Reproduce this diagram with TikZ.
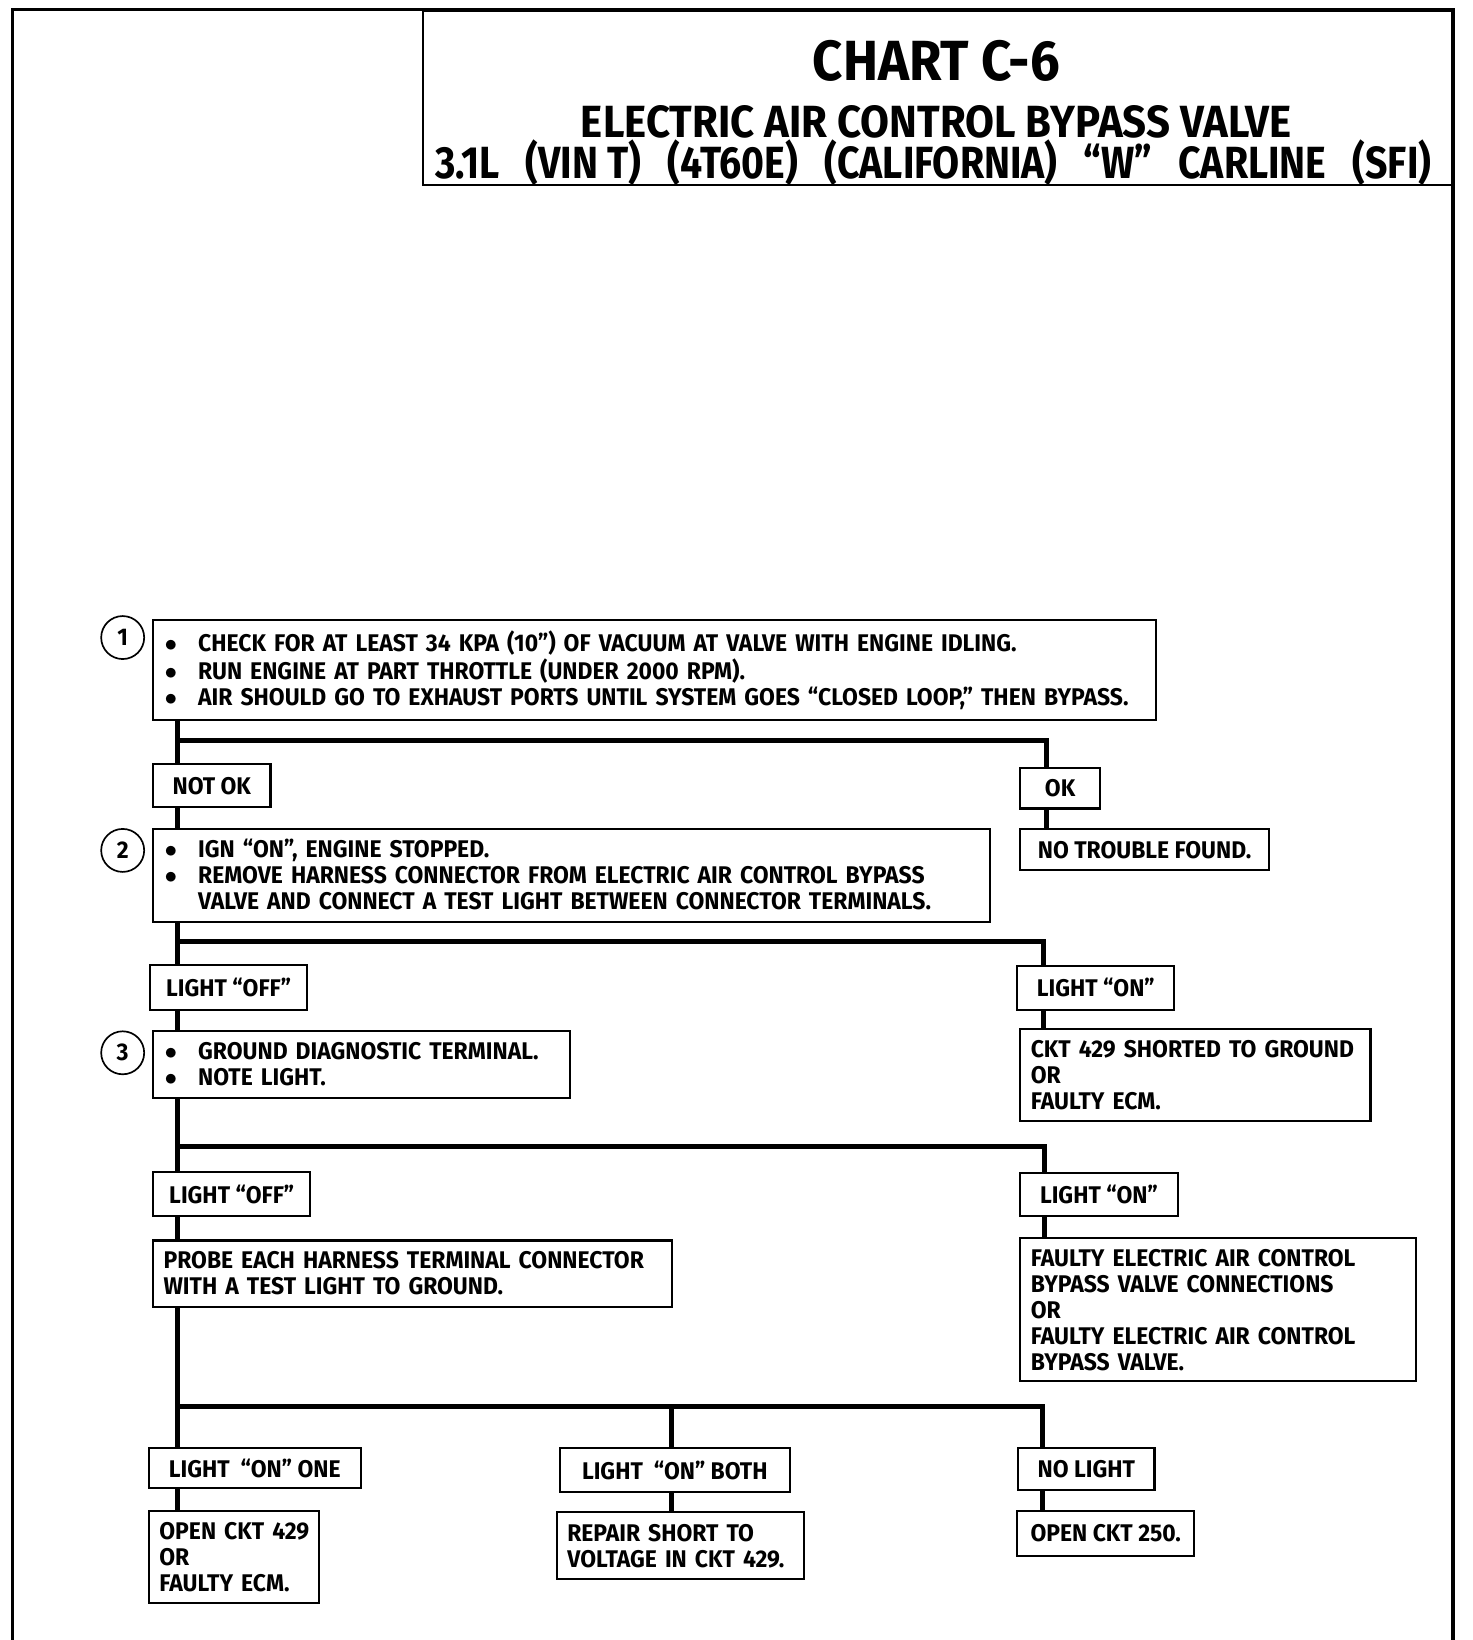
\documentclass[tikz,border=0pt]{standalone}
\usepackage{fontspec}
\setmainfont{Fira Sans}[UprightFont={* Bold}, FakeStretch=0.95]
\newfontfamily\titlefont{Fira Sans}[UprightFont={* Bold}, FakeStretch=0.93]
\newfontfamily\titlefontc{Fira Sans}[UprightFont={* Bold}, FakeStretch=0.87]
\newcommand\fs{\fontsize{11.5}{12.4}\selectfont}
\newcommand\bl{\makebox[16.5pt][l]{\hspace{0.5pt}$\bullet$}}
\newcommand\tl[1]{\begin{tabular}{@{}l@{}}\rule{0pt}{11.7pt}#1\end{tabular}}
\tikzset{
  box/.style={draw, line width=1pt, anchor=north west, inner xsep=5pt, inner ysep=0pt, align=left, font=\fs},
  tbox/.style 2 args={box, text width=#1, minimum height=#2},
  lbl/.style={draw, line width=1pt, anchor=north west, inner sep=0pt, align=center, font=\fs},
  conn/.style={line width=2.3pt},
  num/.style={circle, draw, line width=0.8pt, minimum size=20.5pt, inner sep=0pt, font=\fs},
  frame/.style={line width=1.8pt}
}
\begin{document}
\begin{tikzpicture}[x=0.5pt,y=-0.5pt]
\useasboundingbox (0,0) rectangle (1404,1564);
\fill[white] (0,0) rectangle (1404,1564);
% frame and title
\draw[frame] (12,1564) -- (12,9) -- (1386,9) -- (1386,1564);
\node[draw, line width=1pt, anchor=north west, minimum width=492pt, minimum height=83pt, inner sep=0pt] (tbox) at (402,9) {};
\node[anchor=base, font=\titlefont\fontsize{27}{30}\selectfont, inner sep=0pt] (t1) at (893,77) {CHART C-6};
\node[anchor=base, font=\titlefont\fontsize{21.5}{24}\selectfont, inner sep=0pt] (t2) at (893,131) {ELECTRIC AIR CONTROL BYPASS VALVE};
\node[anchor=base, font=\titlefontc\fontsize{21.5}{24}\selectfont, inner sep=0pt] (t3) at (890,170) {\makebox[475pt]{3.1L\hfill(VIN T)\hfill(4T60E)\hfill(CALIFORNIA)\hfill“W”\hfill CARLINE\hfill(SFI)}};

% step numbers
\node[num] (c1) at (117,608) {1};
\node[num] (c2) at (117,811) {2};
\node[num] (c3) at (117,1004) {3};

% boxes
\node[tbox={468pt}{48pt}] (b1) at (145,590) {\tl{\bl CHECK FOR AT LEAST 34 KPA (10”) OF VACUUM AT VALVE WITH ENGINE IDLING.\\ \bl RUN ENGINE AT PART THROTTLE (UNDER 2000 RPM).\\ \bl AIR SHOULD GO TO EXHAUST PORTS UNTIL SYSTEM GOES “CLOSED LOOP,” THEN BYPASS.}};
\node[lbl, minimum width=56pt, minimum height=20.5pt] (notok) at (145,728) {NOT OK};
\node[lbl, minimum width=38pt, minimum height=19.5pt] (ok) at (972,731) {OK};
\node[tbox={389pt}{44pt}] (b2) at (145,790) {\tl{\bl IGN “ON”, ENGINE STOPPED.\\ \bl REMOVE HARNESS CONNECTOR FROM ELECTRIC AIR CONTROL BYPASS\\ \hspace*{16.5pt}VALVE AND CONNECT A TEST LIGHT BETWEEN CONNECTOR TERMINALS.}};
\node[lbl, minimum width=118.5pt, minimum height=19.5pt] (ntf) at (972,790) {NO TROUBLE FOUND.};
\node[lbl, minimum width=75pt, minimum height=21.5pt] (off1) at (142,919) {LIGHT “OFF”};
\node[lbl, minimum width=75pt, minimum height=21pt] (on1) at (969,920) {LIGHT “ON”};
\node[tbox={189pt}{32pt}] (b3) at (145,982) {\tl{\bl GROUND DIAGNOSTIC TERMINAL.\\ \bl NOTE LIGHT.}};
\node[tbox={157pt}{44pt}] (ckt) at (972,980) {\tl{CKT 429 SHORTED TO GROUND\\ OR\\ FAULTY ECM.}};
\node[lbl, minimum width=75pt, minimum height=21pt] (off2) at (145,1117) {LIGHT “OFF”};
\node[lbl, minimum width=75pt, minimum height=20.5pt] (on2) at (972,1118) {LIGHT “ON”};
\node[tbox={237.5pt}{31.5pt}] (probe) at (145,1182) {\tl{PROBE EACH HARNESS TERMINAL CONNECTOR\\ WITH A TEST LIGHT TO GROUND.}};
\node[tbox={178.5pt}{68pt}] (faulty) at (972,1180) {\tl{FAULTY ELECTRIC AIR CONTROL\\ BYPASS VALVE CONNECTIONS\\ OR\\ FAULTY ELECTRIC AIR CONTROL\\ BYPASS VALVE.}};
\node[lbl, minimum width=101pt, minimum height=19pt] (one) at (141,1380) {LIGHT\ \ “ON” ONE};
\node[lbl, minimum width=109.5pt, minimum height=21pt] (both) at (533,1380) {LIGHT\ \ “ON” BOTH};
\node[lbl, minimum width=65pt, minimum height=20pt] (nolight) at (970,1380) {NO LIGHT};
\node[tbox={71pt}{44pt}] (open429) at (141,1440) {\tl{OPEN CKT 429\\ OR\\ FAULTY ECM.}};
\node[tbox={108pt}{32pt}] (repair) at (530,1441) {\tl{REPAIR SHORT TO\\ VOLTAGE IN CKT 429.}};
\node[lbl, minimum width=84.5pt, minimum height=21.5pt] (open250) at (969,1440) {OPEN CKT 250.};

% junctions
\coordinate (j1a) at (169,706); \coordinate (j1b) at (998,706);
\coordinate (j2a) at (169,898); \coordinate (j2b) at (995,898);
\coordinate (j3a) at (169,1093); \coordinate (j3b) at (996,1093);
\coordinate (j4a) at (169,1341); \coordinate (j4c) at (640,1341); \coordinate (j4b) at (994,1341);

% connectors
\draw[conn] (b1.south -| j1a) -- (notok.north -| j1a);
\draw[conn] (j1a) -- (j1b) -- (ok.north -| j1b);
\draw[conn] (notok.south -| j1a) -- (b2.north -| j1a);
\draw[conn] (ok.south -| j1b) -- (ntf.north -| j1b);

\draw[conn] (b2.south -| j2a) -- (off1.north -| j2a);
\draw[conn] (j2a) -- (j2b) -- (on1.north -| j2b);
\draw[conn] (off1.south -| j2a) -- (b3.north -| j2a);
\draw[conn] (on1.south -| j2b) -- (ckt.north -| j2b);

\draw[conn] (b3.south -| j3a) -- (off2.north -| j3a);
\draw[conn] (j3a) -- (j3b) -- (on2.north -| j3b);
\draw[conn] (off2.south -| j3a) -- (probe.north -| j3a);
\draw[conn] (on2.south -| j3b) -- (faulty.north -| j3b);

\draw[conn] (probe.south -| j4a) -- (one.north -| j4a);
\draw[conn] (j4a) -- (j4b) -- (nolight.north -| j4b);
\draw[conn] (j4c) -- (both.north -| j4c);
\draw[conn] (one.south -| j4a) -- (open429.north -| j4a);
\draw[conn] (both.south -| j4c) -- (repair.north -| j4c);
\draw[conn] (nolight.south -| j4b) -- (open250.north -| j4b);
\end{tikzpicture}
\end{document}
